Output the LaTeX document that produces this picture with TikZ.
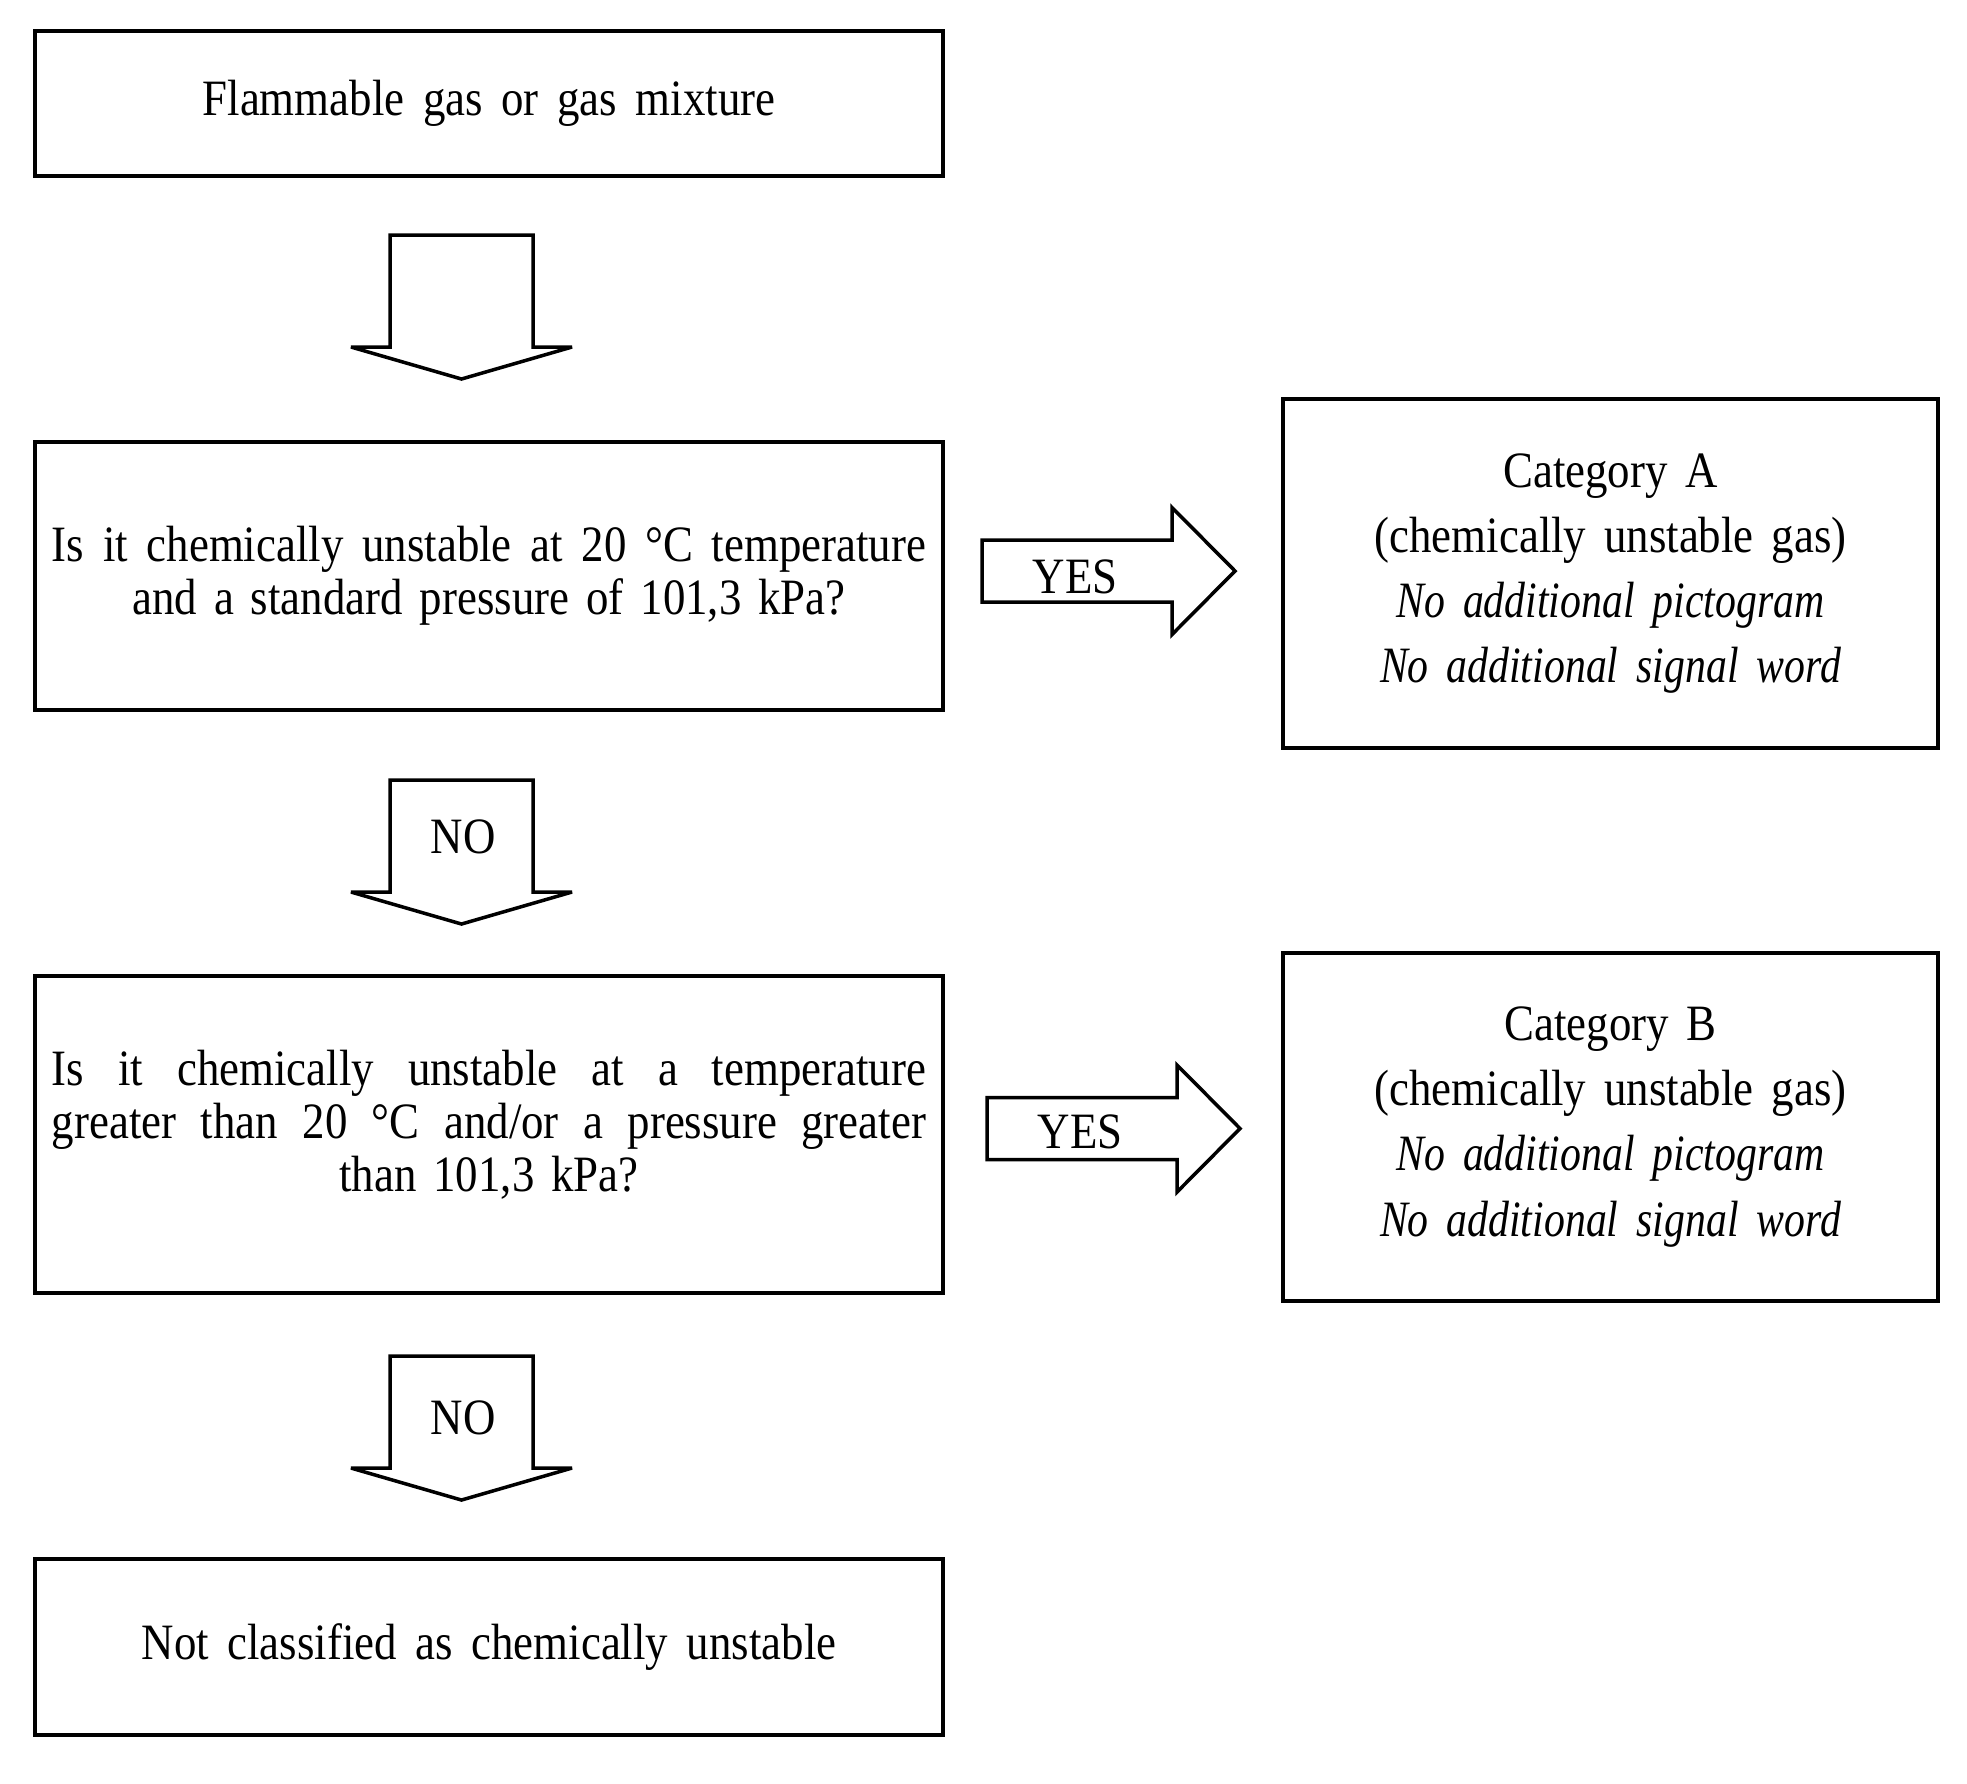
\documentclass[tikz,border=0pt]{standalone}
\usepackage{fontspec}
\setmainfont{Liberation Serif}[UprightFeatures={FakeStretch=0.88}, ItalicFeatures={FakeStretch=0.82}]
\usetikzlibrary{positioning}

\newcommand{\qfont}{\fontsize{14.5}{15}\selectfont\spaceskip=5.3pt plus 4pt minus 1pt}
\newcommand{\catfont}{\fontsize{14.5}{18.5}\selectfont\spaceskip=5.1pt plus 4pt minus 1pt}
\newcommand{\fullline}[1]{\leavevmode\hbox to 8.74cm{\spaceskip=5pt plus 1fil\relax #1}}

\begin{document}
\begin{tikzpicture}[
  box/.style={draw, line width=1.1pt, minimum width=9.08cm, inner sep=0pt, align=center, font=\qfont},
  catbox/.style={draw, line width=1.1pt, minimum width=6.55cm, inner sep=0pt, align=center, font=\catfont},
  blockarrow/.style={draw, line width=1pt, line join=miter, miter limit=3},
  flowlabel/.style={inner sep=0pt, font=\qfont}
]
  \useasboundingbox (0,0) rectangle (19.67,-17.83);

  % left column
  \node[box, minimum height=1.45cm] (start) at (4.89,-1.035) {Flammable gas or gas mixture};
  \node[box, minimum height=2.68cm, text width=8.74cm] (q1) at (4.89,-5.76)
    {\fullline{Is it chemically unstable at 20 °C temperature}\\
     and a standard pressure of 101,3 kPa?};
  \node[box, minimum height=3.17cm, text width=8.74cm] (q2) at (4.89,-11.345)
    {\fullline{Is it chemically unstable at a temperature}\\
     \fullline{greater than 20 °C and/or a pressure greater}\\
     than 101,3 kPa?\rule[-0.27cm]{0pt}{0.1pt}};
  \node[box, minimum height=1.76cm] (notcl) at (4.89,-16.47) {Not classified as chemically unstable};

  % right column
  \node[catbox, minimum height=3.49cm] (catA) at (16.105,-5.735)
    {Category A\\ (chemically unstable gas)\\ \textit{No additional pictogram}\\ \textit{No additional signal word}};
  \node[catbox, minimum height=3.48cm] (catB) at (16.105,-11.27)
    {Category B\\ (chemically unstable gas)\\ \textit{No additional pictogram}\\ \textit{No additional signal word}};

  % block arrows down
  \foreach \y in {-2.35,-7.80,-13.56} {
    \draw[blockarrow, shift={(4.615,\y)}]
      (-0.715,0) -- (-0.715,-1.12) -- (-1.105,-1.12) -- (0,-1.44)
      -- (1.105,-1.12) -- (0.715,-1.12) -- (0.715,0) -- cycle;
  }
  \node[flowlabel] (no1) at (4.63,-8.37) {NO};
  \node[flowlabel] (no2) at (4.63,-14.18) {NO};

  % block arrows right
  \foreach \x/\y in {9.82/-5.71, 9.87/-11.285} {
    \draw[blockarrow, shift={(\x,\y)}]
      (0,0.31) -- (1.90,0.31) -- (1.90,0.635) -- (2.53,0)
      -- (1.90,-0.635) -- (1.90,-0.31) -- (0,-0.31) -- cycle;
  }
  \node[flowlabel] (yes1) at (10.75,-5.77) {YES};
  \node[flowlabel] (yes2) at (10.80,-11.32) {YES};
\end{tikzpicture}
\end{document}
